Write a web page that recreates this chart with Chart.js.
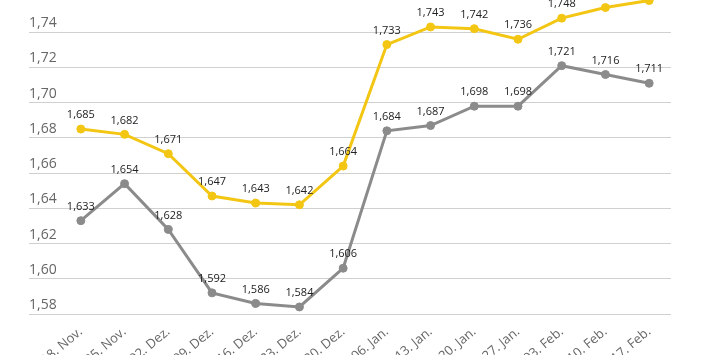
<!DOCTYPE html>
<html>
<head>
<meta charset="utf-8">
<script src="https://cdn.jsdelivr.net/npm/chart.js@4/dist/chart.umd.min.js"></script>
<style>
  html, body { margin: 0; padding: 0; background: #fff; overflow: hidden; width: 710px; height: 355px; }
  #wrap { position: absolute; left: 0; top: -23px; width: 710px; height: 387px; }
</style>
</head>
<body>
<div id="wrap"><canvas id="c" width="710" height="387"></canvas></div>
<script>
const categories = ["18. Nov.", "25. Nov.", "02. Dez.", "09. Dez.", "16. Dez.", "23. Dez.", "30. Dez.", "06. Jan.", "13. Jan.", "20. Jan.", "27. Jan.", "03. Feb.", "10. Feb.", "17. Feb."];
const yellowValues = [1.685, 1.682, 1.671, 1.647, 1.643, 1.642, 1.664, 1.733, 1.743, 1.742, 1.736, 1.748, 1.754, 1.758];
const grayValues = [1.633, 1.654, 1.628, 1.592, 1.586, 1.584, 1.606, 1.684, 1.687, 1.698, 1.698, 1.721, 1.716, 1.711];
const yMin = 1.58, yMax = 1.76, yStep = 0.02;

const FONT = "'Open Sans', 'Noto Sans', sans-serif";
const fmt = (v, d) => v.toFixed(d).replace('.', ',');

const dataLabels = {
  id: 'dataLabels',
  afterDatasetsDraw(chart) {
    const ctx = chart.ctx;
    ctx.save();
    ctx.font = "11px " + FONT;
    ctx.fillStyle = "#222";
    ctx.textAlign = "center";
    ctx.textBaseline = "middle";
    chart.data.datasets.forEach((ds, i) => {
      const meta = chart.getDatasetMeta(i);
      meta.data.forEach((pt, j) => {
        ctx.fillText(fmt(ds.data[j], 3), pt.x, pt.y - 14);
      });
    });
    ctx.restore();
  }
};

new Chart(document.getElementById('c'), {
  type: 'line',
  data: {
    labels: categories,
    datasets: [
      {
        data: yellowValues,
        borderColor: '#f3c614',
        backgroundColor: '#f3c614',
        borderWidth: 3,
        pointRadius: 4,
        pointBorderWidth: 1,
        pointBorderColor: '#f3c614',
        tension: 0
      },
      {
        data: grayValues,
        borderColor: '#8b8b8b',
        backgroundColor: '#8b8b8b',
        borderWidth: 3,
        pointRadius: 4,
        pointBorderWidth: 1,
        pointBorderColor: '#8b8b8b',
        tension: 0
      }
    ]
  },
  options: {
    responsive: false,
    animation: false,
    devicePixelRatio: 1,
    layout: { padding: { left: 29, right: 39, top: 20, bottom: 0 } },
    plugins: { legend: { display: false }, tooltip: { enabled: false } },
    scales: {
      x: {
        offset: true,
        grid: { display: false },
        border: { display: false },
        ticks: {
          color: '#666',
          font: { family: FONT, size: 13 },
          minRotation: 40,
          maxRotation: 40,
          autoSkip: false,
          padding: 2
        },
        afterFit(axis) { axis.height = 50; }
      },
      y: {
        min: yMin,
        max: yMax,
        border: { display: false },
        grid: { color: '#d0d0d0', lineWidth: 1, drawTicks: true, tickLength: 30 },
        ticks: {
          stepSize: yStep,
          mirror: true,
          padding: -30,
          labelOffset: -9,
          color: '#666',
          font: { family: FONT, size: 14 },
          callback: (v) => fmt(v, 2)
        },
        afterFit(axis) { axis.width = 30; }
      }
    }
  },
  plugins: [dataLabels]
});
</script>
</body>
</html>
